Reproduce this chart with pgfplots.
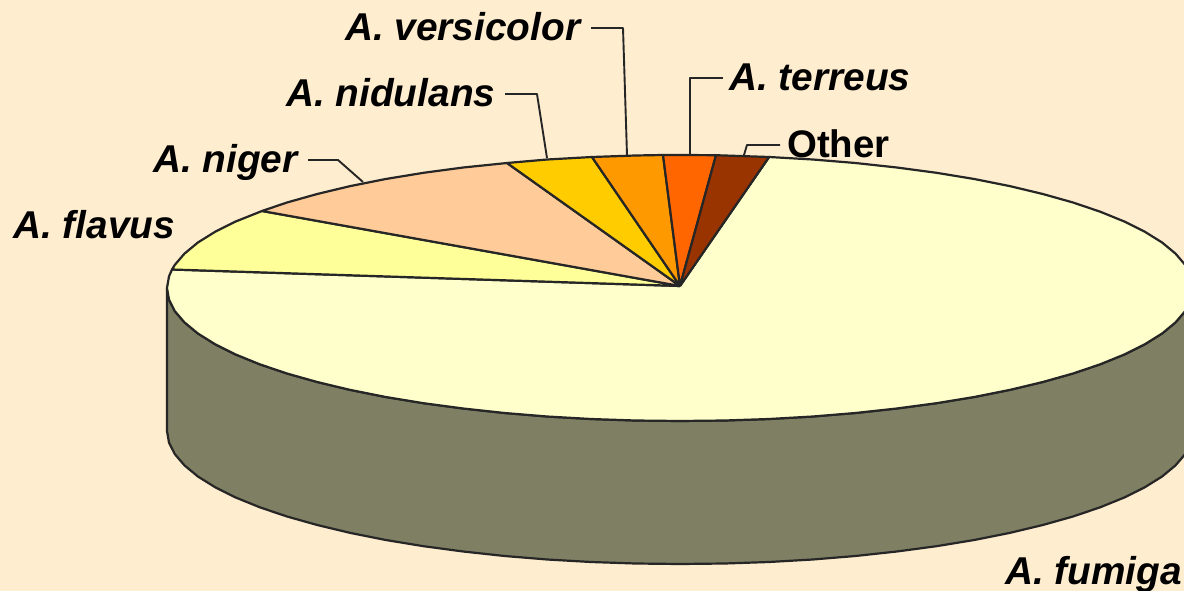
\documentclass[border=0pt]{standalone}
\usepackage{pgfplots}
\pgfplotsset{compat=1.18}
\usepackage{fontspec}
\setmainfont{Liberation Sans}
\definecolor{bg}{HTML}{FFEDCF}
\definecolor{wall}{HTML}{7F7F64}
\definecolor{cfum}{HTML}{FFFFCC}
\definecolor{cfla}{HTML}{FFFF99}
\definecolor{cnig}{HTML}{FFCC99}
\definecolor{cnid}{HTML}{FFCC00}
\definecolor{cver}{HTML}{FF9900}
\definecolor{cter}{HTML}{FF6600}
\definecolor{coth}{HTML}{993300}
\newcommand{\lab}{\fontsize{38.8}{42}\selectfont\bfseries\itshape}
\begin{document}
\begin{tikzpicture}[x=1pt,y=1pt]
\path[use as bounding box] (0,0) rectangle (1184,591);
\clip (0,0) rectangle (1184,591);
\fill[bg] (0,0) rectangle (1184,591);
\begin{axis}[
  at={(0,0)}, anchor=south west, scale only axis,
  width=1184pt, height=591pt,
  xmin=0, xmax=1184, ymin=0, ymax=591, y dir=reverse,
  axis lines=none, no markers,
  every axis plot/.append style={line join=round, line width=2.2pt, draw=black!85},
]
% side wall
\addplot[fill=wall] coordinates {
(167,288)(169,299.6)(174.8,311.1)(184.5,322.4)(197.9,333.5)(215.1,344.2)(235.7,354.5)(259.8,364.3)(287,373.5)(317.2,382)(350.2,389.9)(385.8,397)(423.5,403.2)(463.2,408.5)(504.6,413)(547.2,416.5)(590.9,419)(635.3,420.5)(680,421)(724.7,420.5)(769.1,419)(812.8,416.5)(855.4,413)(896.8,408.5)(936.5,403.2)(974.2,397)(1009.8,389.9)(1042.8,382)(1073,373.5)(1100.2,364.3)(1124.3,354.5)(1144.9,344.2)(1162.1,333.5)(1175.5,322.4)(1185.2,311.1)(1191,299.6)(1193,288)
(1193,431)(1191,442.6)(1185.2,454.1)(1175.5,465.4)(1162.1,476.5)(1144.9,487.2)(1124.3,497.5)(1100.2,507.3)(1073,516.5)(1042.8,525)(1009.8,532.9)(974.2,540)(936.5,546.2)(896.8,551.5)(855.4,556)(812.8,559.5)(769.1,562)(724.7,563.5)(680,564)(635.3,563.5)(590.9,562)(547.2,559.5)(504.6,556)(463.2,551.5)(423.5,546.2)(385.8,540)(350.2,532.9)(317.2,525)(287,516.5)(259.8,507.3)(235.7,497.5)(215.1,487.2)(197.9,476.5)(184.5,465.4)(174.8,454.1)(169,442.6)(167,431)(167,288)
};
% A. fumigatus
\addplot[fill=cfum] coordinates {
(680,286)(769.1,157)(812.8,159.5)(855.4,163)(896.8,167.5)(936.5,172.8)(974.2,179)(1009.8,186.1)(1042.8,194)(1073,202.5)(1100.2,211.7)(1124.3,221.5)(1144.9,231.8)(1162.1,242.5)(1175.5,253.6)(1185.2,264.9)(1191,276.4)(1193,288)
(1191,299.6)(1185.2,311.1)(1175.5,322.4)(1162.1,333.5)(1144.9,344.2)(1124.3,354.5)(1100.2,364.3)(1073,373.5)(1042.8,382)(1009.8,389.9)(974.2,397)(936.5,403.2)(896.8,408.5)(855.4,413)(812.8,416.5)(769.1,419)(724.7,420.5)(680,421)(635.3,420.5)(590.9,419)(547.2,416.5)(504.6,413)(463.2,408.5)(423.5,403.2)(385.8,397)(350.2,389.9)(317.2,382)(287,373.5)(259.8,364.3)(235.7,354.5)(215.1,344.2)(197.9,333.5)(184.5,322.4)(174.8,311.1)(169,299.6)(167,288)(169,276.4)(172,269.5)(680,286)
};
% A. flavus
\addplot[fill=cfla] coordinates {
(680,286)(172,269.5)(174.8,264.9)(184.5,253.6)(197.9,242.5)(215.1,231.8)(235.7,221.5)(262,211)(680,286)
};
% A. niger
\addplot[fill=cnig] coordinates {
(680,286)(262,211)(287,202.5)(317.2,194)(350.2,186.1)(385.8,179)(423.5,172.8)(463.2,167.5)(507,163)(680,286)
};
% A. nidulans
\addplot[fill=cnid] coordinates {
(680,286)(507,163)(547.2,159.5)(592,157)(680,286)
};
% A. versicolor
\addplot[fill=cver] coordinates {
(680,286)(592,157)(635.3,155.5)(663,155)(680,286)
};
% A. terreus
\addplot[fill=cter] coordinates {
(680,286)(663,155)(680,155)(716,155.2)(680,286)
};
% Other
\addplot[fill=coth] coordinates {
(680,286)(716,155.2)(724.7,155.5)(769.1,157)(680,286)
};
% leader lines
\addplot[line width=1.9pt] coordinates {(308,160)(338,160)(363,182)};
\addplot[line width=1.9pt] coordinates {(505,94)(537,94)(547,158)};
\addplot[line width=1.9pt] coordinates {(591,28)(623,28)(627,155)};
\addplot[line width=1.9pt] coordinates {(723,78)(690,78)(690,155)};
\addplot[line width=1.9pt] coordinates {(780,145)(747,145)(744,155)};
% labels
\node[anchor=base west,inner sep=0pt] at (axis cs:345,41) {\lab A. versicolor};
\node[anchor=base west,inner sep=0pt] at (axis cs:286,107) {\lab A. nidulans};
\node[anchor=base west,inner sep=0pt] at (axis cs:153,172) {\lab A. niger};
\node[anchor=base west,inner sep=0pt] at (axis cs:13,238) {\lab A. flavus};
\node[anchor=base west,inner sep=0pt] at (axis cs:729,91) {\lab A. terreus};
\node[anchor=base west,inner sep=0pt] at (axis cs:787,158) {\fontsize{38.4}{42}\selectfont\bfseries Other};
\node[anchor=base west,inner sep=0pt] at (axis cs:1005,584) {\lab A. fumiga};
\end{axis}
\end{tikzpicture}
\end{document}
